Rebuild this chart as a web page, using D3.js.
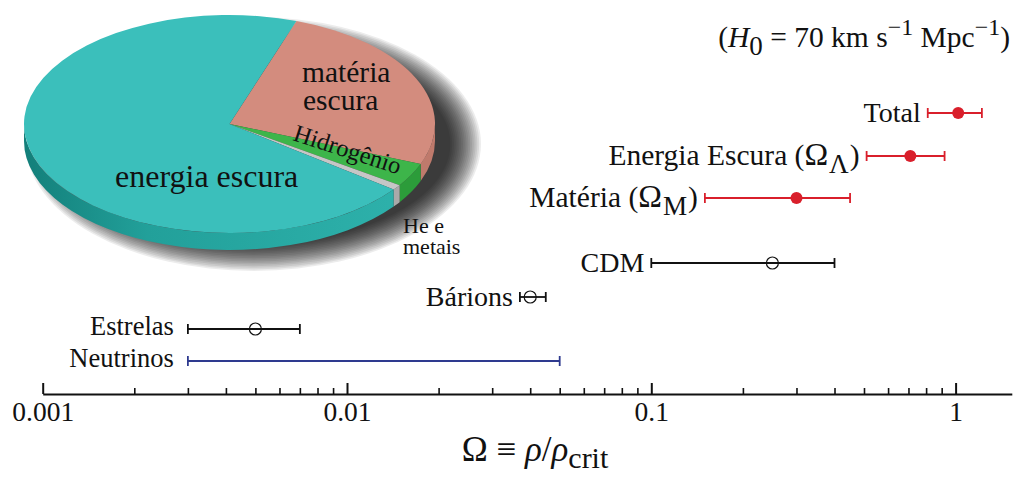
<!DOCTYPE html>
<html><head><meta charset="utf-8">
<script src="https://cdn.jsdelivr.net/npm/d3@7"></script>
<style>
body{margin:0;background:#fff}
svg{display:block}
text{font-family:"Liberation Serif","Times New Roman",serif;fill:#111}
</style>
</head><body>
<svg id="c" width="1024" height="481"></svg>
<script>
// ---------- data ----------
const categories = ["Total", "Energia Escura (ΩΛ)", "Matéria (ΩM)", "CDM", "Bárions", "Estrelas", "Neutrinos"];
const values = [1.02, 0.71, 0.30, 0.25, 0.04, 0.005, null];
const lows   = [0.81, 0.51, 0.15, 0.10, 0.037, 0.003, 0.003];
const highs  = [1.22, 0.92, 0.45, 0.40, 0.045, 0.007, 0.05];
const markerKinds = ["filled", "filled", "filled", "open", "open", "open", "none"];
const pieLabels = ["matéria escura", "Hidrogênio", "He e metais", "energia escura"];
const pieShares = [25.7, 3.5, 0.8, 70.0];
const majorTicks = [0.001, 0.01, 0.1, 1];
const tickLabels = ["0.001", "0.01", "0.1", "1"];

// ---------- layout / style ----------
const svg = d3.select("#c");
svg.append("rect").attr("width", 1024).attr("height", 481).attr("fill", "#fff");
const defs = svg.append("defs");

const x = d3.scaleLog().domain([0.001, 1.53]).range([42.7, 1011.8]);
const rowY = d3.scaleOrdinal().domain(categories).range([113, 156, 198, 263, 297, 329, 361]);
const colorOf = k => k === "filled" ? "#d91f2b" : (k === "open" ? "#111" : "#2e3a8f");
const fontOf = c => (c === "Estrelas" || c === "Neutrinos") ? 26.5 : (c.includes("Ω") ? 29.5 : 28);
const axisY = 394;

// ---------- pie ----------
const pcx = 229.5, pcy = 124, prx = 205.5, pry = 109, depth = 17, k = pry / prx;
const pieTop = ["#d38c7e", "#3db54a", "#c6c6c6", "#3bbfbb"];
const pieSide = ["#bf7a6c", "#2c9c3a", "#a9a9a9", "url(#tealSide)"];

const grad = defs.append("linearGradient").attr("id", "tealSide").attr("gradientUnits", "userSpaceOnUse")
  .attr("x1", -prx).attr("x2", prx).attr("y1", 0).attr("y2", 0);
grad.append("stop").attr("offset", "0%").attr("stop-color", "#137f7a");
grad.append("stop").attr("offset", "30%").attr("stop-color", "#22a09a");
grad.append("stop").attr("offset", "100%").attr("stop-color", "#2fb3ad");

// soft drop shadow built from stacked translucent ellipses
const shadowG = svg.append("g").attr("class", "pie-shadow");
const shadowSteps = d3.range(18);
shadowG.selectAll("ellipse").data(shadowSteps).join("ellipse")
  .attr("cx", pcx + 24).attr("cy", pcy + 20)
  .attr("rx", i => prx + 22 - i * 1.8).attr("ry", i => pry + 18 - i * 1.6)
  .attr("fill", "#000").attr("fill-opacity", 0.075);

const a0 = 19 * Math.PI / 180;
const pie = d3.pie().sort(null).value(d => d).startAngle(a0).endAngle(a0 + 2 * Math.PI);
const arcs = pie(pieShares);
const pg = svg.append("g").attr("transform", `translate(${pcx},${pcy}) scale(1,${k})`);
const D = depth / k;
const sideG = pg.append("g");
arcs.forEach((d, i) => {
  [[Math.PI / 2, 3 * Math.PI / 2], [Math.PI / 2 + 2 * Math.PI, 3 * Math.PI / 2 + 2 * Math.PI]].forEach(([lo, hi]) => {
    const s = Math.max(d.startAngle, lo), e = Math.min(d.endAngle, hi);
    if (e <= s) return;
    const p = d3.path();
    p.arc(0, 0, prx, s - Math.PI / 2, e - Math.PI / 2);
    p.lineTo(prx * Math.cos(e - Math.PI / 2), prx * Math.sin(e - Math.PI / 2) + D);
    p.arc(0, D, prx, e - Math.PI / 2, s - Math.PI / 2, true);
    p.closePath();
    sideG.append("path").attr("d", p.toString()).attr("fill", pieSide[i]);
  });
});
const arcGen = d3.arc().innerRadius(0).outerRadius(prx);
pg.append("g").selectAll("path").data(arcs).join("path")
  .attr("d", arcGen).attr("fill", (d, i) => pieTop[i]);

// pie labels
const lab = svg.append("g");
lab.append("text").attr("font-size", 29.5).attr("x", 302).attr("y", 82).text(pieLabels[0].split(" ")[0]);
lab.append("text").attr("font-size", 29.5).attr("x", 303).attr("y", 110).text(pieLabels[0].split(" ")[1]);
lab.append("text").attr("font-size", 24.5).attr("transform", "translate(292,140) rotate(18)").text(pieLabels[1]);
lab.append("text").attr("font-size", 22).attr("x", 403).attr("y", 233).text(pieLabels[2].split(" ").slice(0, 2).join(" "));
lab.append("text").attr("font-size", 22).attr("x", 403).attr("y", 254).text(pieLabels[2].split(" ")[2]);
lab.append("text").attr("font-size", 32).attr("x", 115).attr("y", 187).text(pieLabels[3]);

// ---------- H0 note ----------
const h = svg.append("text").attr("font-size", 29.5).attr("x", 1010).attr("y", 47).attr("text-anchor", "end");
h.append("tspan").text("(");
h.append("tspan").attr("font-style", "italic").text("H");
h.append("tspan").attr("font-size", 27).attr("dy", 8).text("0");
h.append("tspan").attr("dy", -8).text(" = 70 km s");
h.append("tspan").attr("font-size", 24).attr("dy", -12).text("−1");
h.append("tspan").attr("dy", 12).text(" Mpc");
h.append("tspan").attr("font-size", 24).attr("dy", -12).text("−1");
h.append("tspan").attr("dy", 12).text(")");

// ---------- axis ----------
const minor = x.ticks().filter(t => t <= 1 && !majorTicks.some(m => Math.abs(m - t) / m < 1e-6));
const minorAxis = d3.axisBottom(x).tickValues(minor).tickSize(-6).tickSizeOuter(0).tickFormat("");
const majorAxis = d3.axisBottom(x).tickValues(majorTicks).tickSize(-11).tickSizeOuter(0).tickPadding(7)
  .tickFormat((d, i) => tickLabels[i]);
const ga = svg.append("g").attr("transform", `translate(0,${axisY})`).call(minorAxis);
ga.selectAll(".tick line").attr("stroke", "#111").attr("stroke-width", 1.6);
ga.select(".domain").attr("stroke", "#111").attr("stroke-width", 2.2);
const gb = svg.append("g").attr("transform", `translate(0,${axisY})`).call(majorAxis);
gb.select(".domain").remove();
gb.selectAll(".tick line").attr("stroke", "#111").attr("stroke-width", 2);
gb.selectAll(".tick text").attr("font-size", 27.5).attr("font-family", "Liberation Serif").attr("fill", "#111");

const t = svg.append("text").attr("font-size", 35).attr("x", 535).attr("y", 461).attr("text-anchor", "middle");
t.append("tspan").text("Ω ≡ ");
t.append("tspan").attr("font-style", "italic").text("ρ");
t.append("tspan").text("/");
t.append("tspan").attr("font-style", "italic").text("ρ");
t.append("tspan").attr("font-size", 30).attr("dy", 7).text("crit");

// ---------- error bars ----------
const rows = categories.map((c, i) => ({c, v: values[i], lo: lows[i], hi: highs[i], kind: markerKinds[i]}));
const rg = svg.append("g").selectAll("g").data(rows).join("g");
rg.append("line").attr("x1", d => x(d.lo)).attr("x2", d => x(d.hi))
  .attr("y1", d => rowY(d.c)).attr("y2", d => rowY(d.c))
  .attr("stroke", d => colorOf(d.kind)).attr("stroke-width", 1.8);
["lo", "hi"].forEach(key => {
  rg.append("line").attr("x1", d => x(d[key])).attr("x2", d => x(d[key]))
    .attr("y1", d => rowY(d.c) - 5).attr("y2", d => rowY(d.c) + 5)
    .attr("stroke", d => colorOf(d.kind)).attr("stroke-width", 1.8);
});
rg.filter(d => d.v != null).append("circle")
  .attr("cx", d => x(d.v)).attr("cy", d => rowY(d.c)).attr("r", 6)
  .attr("fill", d => d.kind === "filled" ? colorOf(d.kind) : "none")
  .attr("stroke", d => colorOf(d.kind)).attr("stroke-width", d => d.kind === "filled" ? 0 : 1.2);
rg.each(function (d) {
  const g = d3.select(this);
  const fs = fontOf(d.c);
  const gap = fs < 28 ? 14 : 7;
  const tx = g.append("text").attr("font-size", fs).attr("text-anchor", "end")
    .attr("x", x(d.lo) - gap).attr("y", rowY(d.c) + (fs < 28 ? 6 : 9));
  const m = d.c.match(/^(.*\()(Ω)(.)(\))$/);
  if (m) {
    tx.append("tspan").text(m[1]);
    tx.append("tspan").attr("font-size", fs * 1.08).text(m[2]);
    tx.append("tspan").attr("font-size", fs * 0.92).attr("dx", 1).attr("dy", 8).text(m[3]);
    tx.append("tspan").attr("dx", 1).attr("dy", -8).text(m[4]);
  } else tx.text(d.c);
});
</script>
</body></html>
